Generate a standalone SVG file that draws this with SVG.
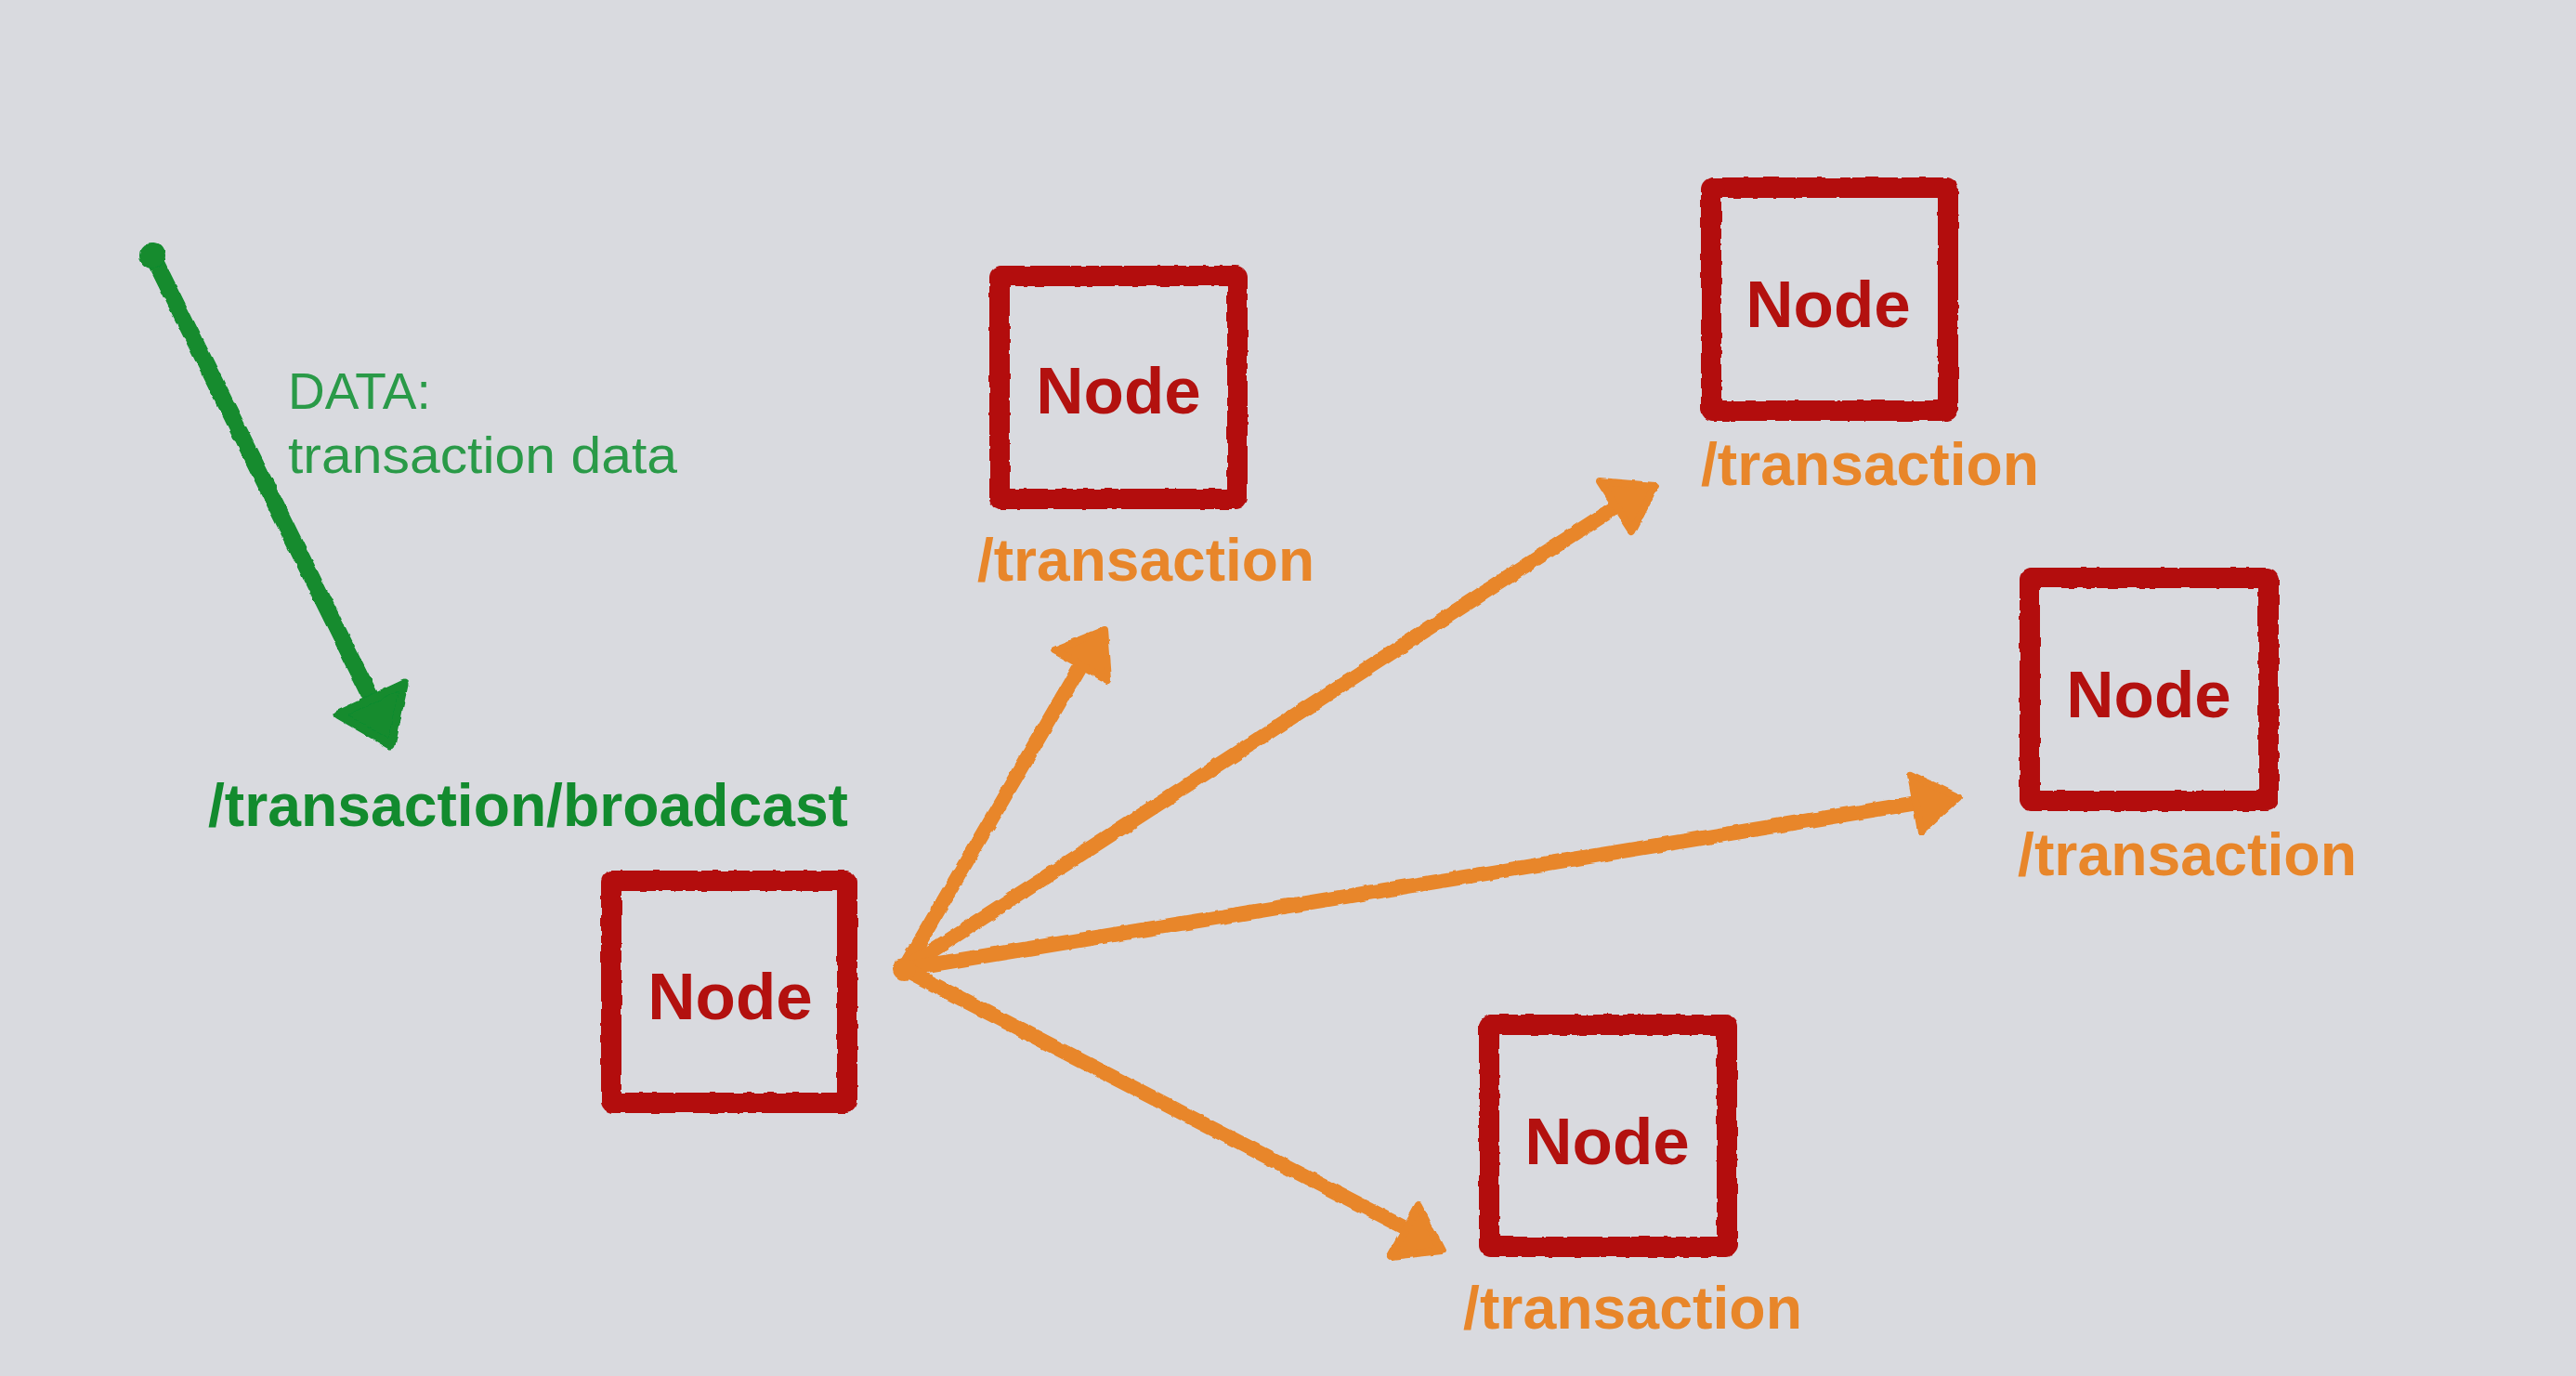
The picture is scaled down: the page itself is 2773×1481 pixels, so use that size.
<svg xmlns="http://www.w3.org/2000/svg" width="2773" height="1481" viewBox="0 0 2773 1481">
<defs>
<filter id="rough" x="-10%" y="-10%" width="120%" height="120%">
<feTurbulence type="fractalNoise" baseFrequency="0.08" numOctaves="2" seed="3" result="n"/>
<feDisplacementMap in="SourceGraphic" in2="n" scale="4" xChannelSelector="R" yChannelSelector="G"/>
</filter>
</defs>
<style>
.box{fill:none;stroke:#b3110f;stroke-width:22;stroke-linejoin:round}
.corner{fill:#b3110f}
.nodeText{font-family:"Liberation Sans",Arial,sans-serif;font-weight:bold;font-size:71px;fill:#b3110f;text-anchor:middle}
.ep{font-family:"Liberation Sans",Arial,sans-serif;font-weight:bold;font-size:64px;fill:#e8862a}
.oline{fill:none;stroke:#e8862a;stroke-width:16;stroke-linecap:round}
.ohead{fill:#e8862a;stroke:#e8862a;stroke-width:8;stroke-linejoin:round}
.gline{fill:none;stroke:#128b2e;stroke-width:18;stroke-linecap:round}
.ghead{fill:#128b2e;stroke:#128b2e;stroke-width:9;stroke-linejoin:round}
.gbold{font-family:"Liberation Sans",Arial,sans-serif;font-weight:bold;font-size:64px;fill:#128b2e}
.glight{font-family:"Liberation Sans",Arial,sans-serif;font-weight:normal;font-size:55px;fill:#2a9a48}
</style>
<rect x="0" y="0" width="2773" height="1481" fill="#d9dadf"/>

<g id="connectors" filter="url(#rough)">
<path class="gline" d="M164,275 L398,748"/>
<polygon class="ghead" points="421,802 364,769 435,736"/>
<circle cx="164" cy="275" r="14" fill="#128b2e"/>
<path class="oline" d="M973,1043 L1166,712"/>
<polygon class="ohead" points="1189,678 1135,700 1193,732"/>
<path class="oline" d="M973,1043 L1742,544"/>
<polygon class="ohead" points="1782,523 1722,518 1757,572"/>
<path class="oline" d="M973,1043 L2064,864"/>
<polygon class="ohead" points="2108,858 2057,834 2068,895"/>
<path class="oline" d="M973,1043 L1513,1322"/>
<polygon class="ohead" points="1552,1346 1527,1298 1497,1352"/>
<circle cx="973" cy="1043" r="12" fill="#e8862a"/>
</g>

<g id="source-label">
<text class="glight" x="310" y="440">DATA:</text>
<text class="glight" x="310" y="509" textLength="419" lengthAdjust="spacingAndGlyphs">transaction data</text>
<text class="gbold" x="224" y="889" textLength="689" lengthAdjust="spacingAndGlyphs">/transaction/broadcast</text>
</g>

<g id="node-source">
<g filter="url(#rough)">
<rect class="box" x="658" y="948" width="254" height="239" rx="4"/>
<circle class="corner" cx="660" cy="950" r="13"/><circle class="corner" cx="910" cy="950" r="13"/>
<circle class="corner" cx="660" cy="1185" r="13"/><circle class="corner" cx="910" cy="1185" r="13"/>
</g>
<text class="nodeText" x="786" y="1097">Node</text>
</g>

<g id="node-1">
<g filter="url(#rough)">
<rect class="box" x="1076" y="297" width="256" height="240" rx="4"/>
<circle class="corner" cx="1078" cy="299" r="13"/><circle class="corner" cx="1330" cy="299" r="13"/>
<circle class="corner" cx="1078" cy="535" r="13"/><circle class="corner" cx="1330" cy="535" r="13"/>
</g>
<text class="nodeText" x="1204" y="445">Node</text>
<text class="ep" x="1052" y="625" textLength="363" lengthAdjust="spacingAndGlyphs">/transaction</text>
</g>

<g id="node-2">
<g filter="url(#rough)">
<rect class="box" x="1842" y="202" width="255" height="240" rx="4"/>
<circle class="corner" cx="1844" cy="204" r="13"/><circle class="corner" cx="2095" cy="204" r="13"/>
<circle class="corner" cx="1844" cy="440" r="13"/><circle class="corner" cx="2095" cy="440" r="13"/>
</g>
<text class="nodeText" x="1968" y="352">Node</text>
<text class="ep" x="1831" y="522" textLength="364" lengthAdjust="spacingAndGlyphs">/transaction</text>
</g>

<g id="node-3">
<g filter="url(#rough)">
<rect class="box" x="2185" y="622" width="257" height="240" rx="4"/>
<circle class="corner" cx="2187" cy="624" r="13"/><circle class="corner" cx="2440" cy="624" r="13"/>
<circle class="corner" cx="2187" cy="860" r="13"/><circle class="corner" cx="2440" cy="860" r="13"/>
</g>
<text class="nodeText" x="2313" y="772">Node</text>
<text class="ep" x="2172" y="942" textLength="365" lengthAdjust="spacingAndGlyphs">/transaction</text>
</g>

<g id="node-4">
<g filter="url(#rough)">
<rect class="box" x="1603" y="1103" width="256" height="239" rx="4"/>
<circle class="corner" cx="1605" cy="1105" r="13"/><circle class="corner" cx="1857" cy="1105" r="13"/>
<circle class="corner" cx="1605" cy="1340" r="13"/><circle class="corner" cx="1857" cy="1340" r="13"/>
</g>
<text class="nodeText" x="1730" y="1253">Node</text>
<text class="ep" x="1575" y="1430" textLength="365" lengthAdjust="spacingAndGlyphs">/transaction</text>
</g>
</svg>
